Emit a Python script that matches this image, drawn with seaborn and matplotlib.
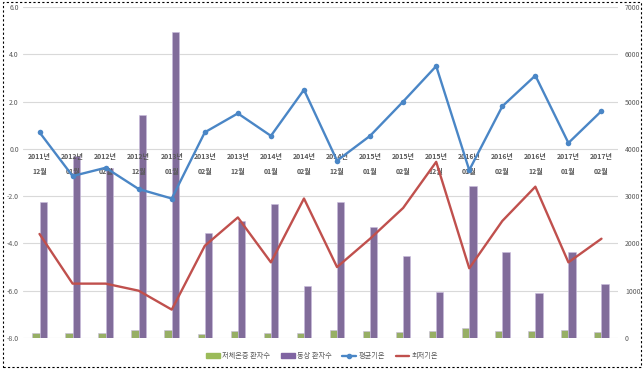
import numpy as np
import pandas as pd
import seaborn as sns
import matplotlib.pyplot as plt
from matplotlib.patches import Rectangle, Patch
from matplotlib.lines import Line2D

months = ["2011년\n12월", "2012년\n01월", "2012년\n02월", "2012년\n12월", "2013년\n01월", "2013년\n02월",
          "2013년\n12월", "2014년\n01월", "2014년\n02월", "2014년\n12월", "2015년\n01월", "2015년\n02월",
          "2015년\n12월", "2016년\n01월", "2016년\n02월", "2016년\n12월", "2017년\n01월", "2017년\n02월"]
hypothermia = [105, 110, 100, 160, 160, 85, 140, 110, 100, 175, 155, 135, 155, 205, 150, 150, 175, 135]
frostbite = [2870, 3850, 3600, 4715, 6470, 2220, 2480, 2830, 1110, 2875, 2350, 1740, 975, 3215, 1820, 950, 1820, 1140]
avg_temp = [0.7, -1.15, -0.8, -1.7, -2.1, 0.7, 1.5, 0.55, 2.5, -0.5, 0.55, 2.0, 3.5, -0.9, 1.8, 3.1, 0.25, 1.6]
min_temp = [-3.6, -5.7, -5.7, -6.0, -6.8, -4.1, -2.9, -4.8, -2.1, -5.0, -3.8, -2.5, -0.55, -5.05, -3.05, -1.6, -4.8, -3.8]

series_names = ["저체온증 환자수", "동상 환자수", "평균기온", "최저기온"]
green, purple, blue, red = "#9BBB59", "#8064A2", "#4A86C6", "#C0504D"
text_color = "#595959"

sns.set_theme(style="white")
plt.rcParams['font.family'] = ['Noto Sans CJK KR', 'DejaVu Sans']

fig = plt.figure(figsize=(6.44, 3.69), dpi=100)
ax = fig.add_axes([23 / 644, 31 / 369, 595 / 644, 331 / 369])
ax2 = ax.twinx()

df = pd.DataFrame({"month": months, series_names[0]: hypothermia, series_names[1]: frostbite})
long_df = df.melt(id_vars="month", var_name="series", value_name="count")
sns.barplot(data=long_df, x="month", y="count", hue="series", palette=[green, purple],
            width=0.44, ax=ax2, legend=False, edgecolor="#C9BCDD", linewidth=0.4)

x = np.arange(len(months))
sns.lineplot(x=x, y=avg_temp, color=blue, linewidth=1.7, marker="o", markersize=4,
             markeredgewidth=0, ax=ax)
sns.lineplot(x=x, y=min_temp, color=red, linewidth=1.7, ax=ax)

ax.set_zorder(ax2.get_zorder() + 1)
ax.patch.set_visible(False)

ax.set_xlim(-0.5, len(months) - 0.5)
ax.set_ylim(-8, 6)
ax2.set_ylim(0, 7000)

ax.set_yticks(np.arange(-8, 7, 2))
ax.set_yticklabels([f"{v:.1f}" for v in np.arange(-8, 7, 2)])
ax2.set_yticks(np.arange(0, 7001, 1000))
ax.tick_params(axis="y", length=0, labelsize=5, labelcolor=text_color, pad=3)
ax2.tick_params(axis="y", length=0, labelsize=5, labelcolor=text_color, pad=5)

ax.spines["bottom"].set_position(("data", 0))
ax.set_xticks(x)
ax.set_xticklabels(months, fontsize=5, color=text_color, linespacing=2.4, fontweight="bold")
ax.tick_params(axis="x", length=0, pad=3)

ax2.yaxis.grid(True, color="#D9D9D9", linewidth=0.8)
ax2.set_axisbelow(True)
for a in (ax, ax2):
    for s in a.spines.values():
        s.set_visible(False)
    a.set_xlabel("")
    a.set_ylabel("")

handles = [Patch(color=green), Patch(color=purple),
           Line2D([], [], color=blue, linewidth=1.7, marker="o", markersize=3),
           Line2D([], [], color=red, linewidth=1.7)]
fig.legend(handles, series_names, loc="center", bbox_to_anchor=(322 / 644, 1 - 356 / 369), ncol=4,
           frameon=False, fontsize=5.2, handlelength=1.9, handleheight=0.6, handletextpad=0.3,
           columnspacing=1.5, labelcolor=text_color)

fig.add_artist(Rectangle((0.004, 0.006), 0.992, 0.988, transform=fig.transFigure, fill=False,
                         linestyle=(0, (2, 2)), linewidth=0.8, edgecolor="black"))

fig.savefig("out.png", dpi=100)
